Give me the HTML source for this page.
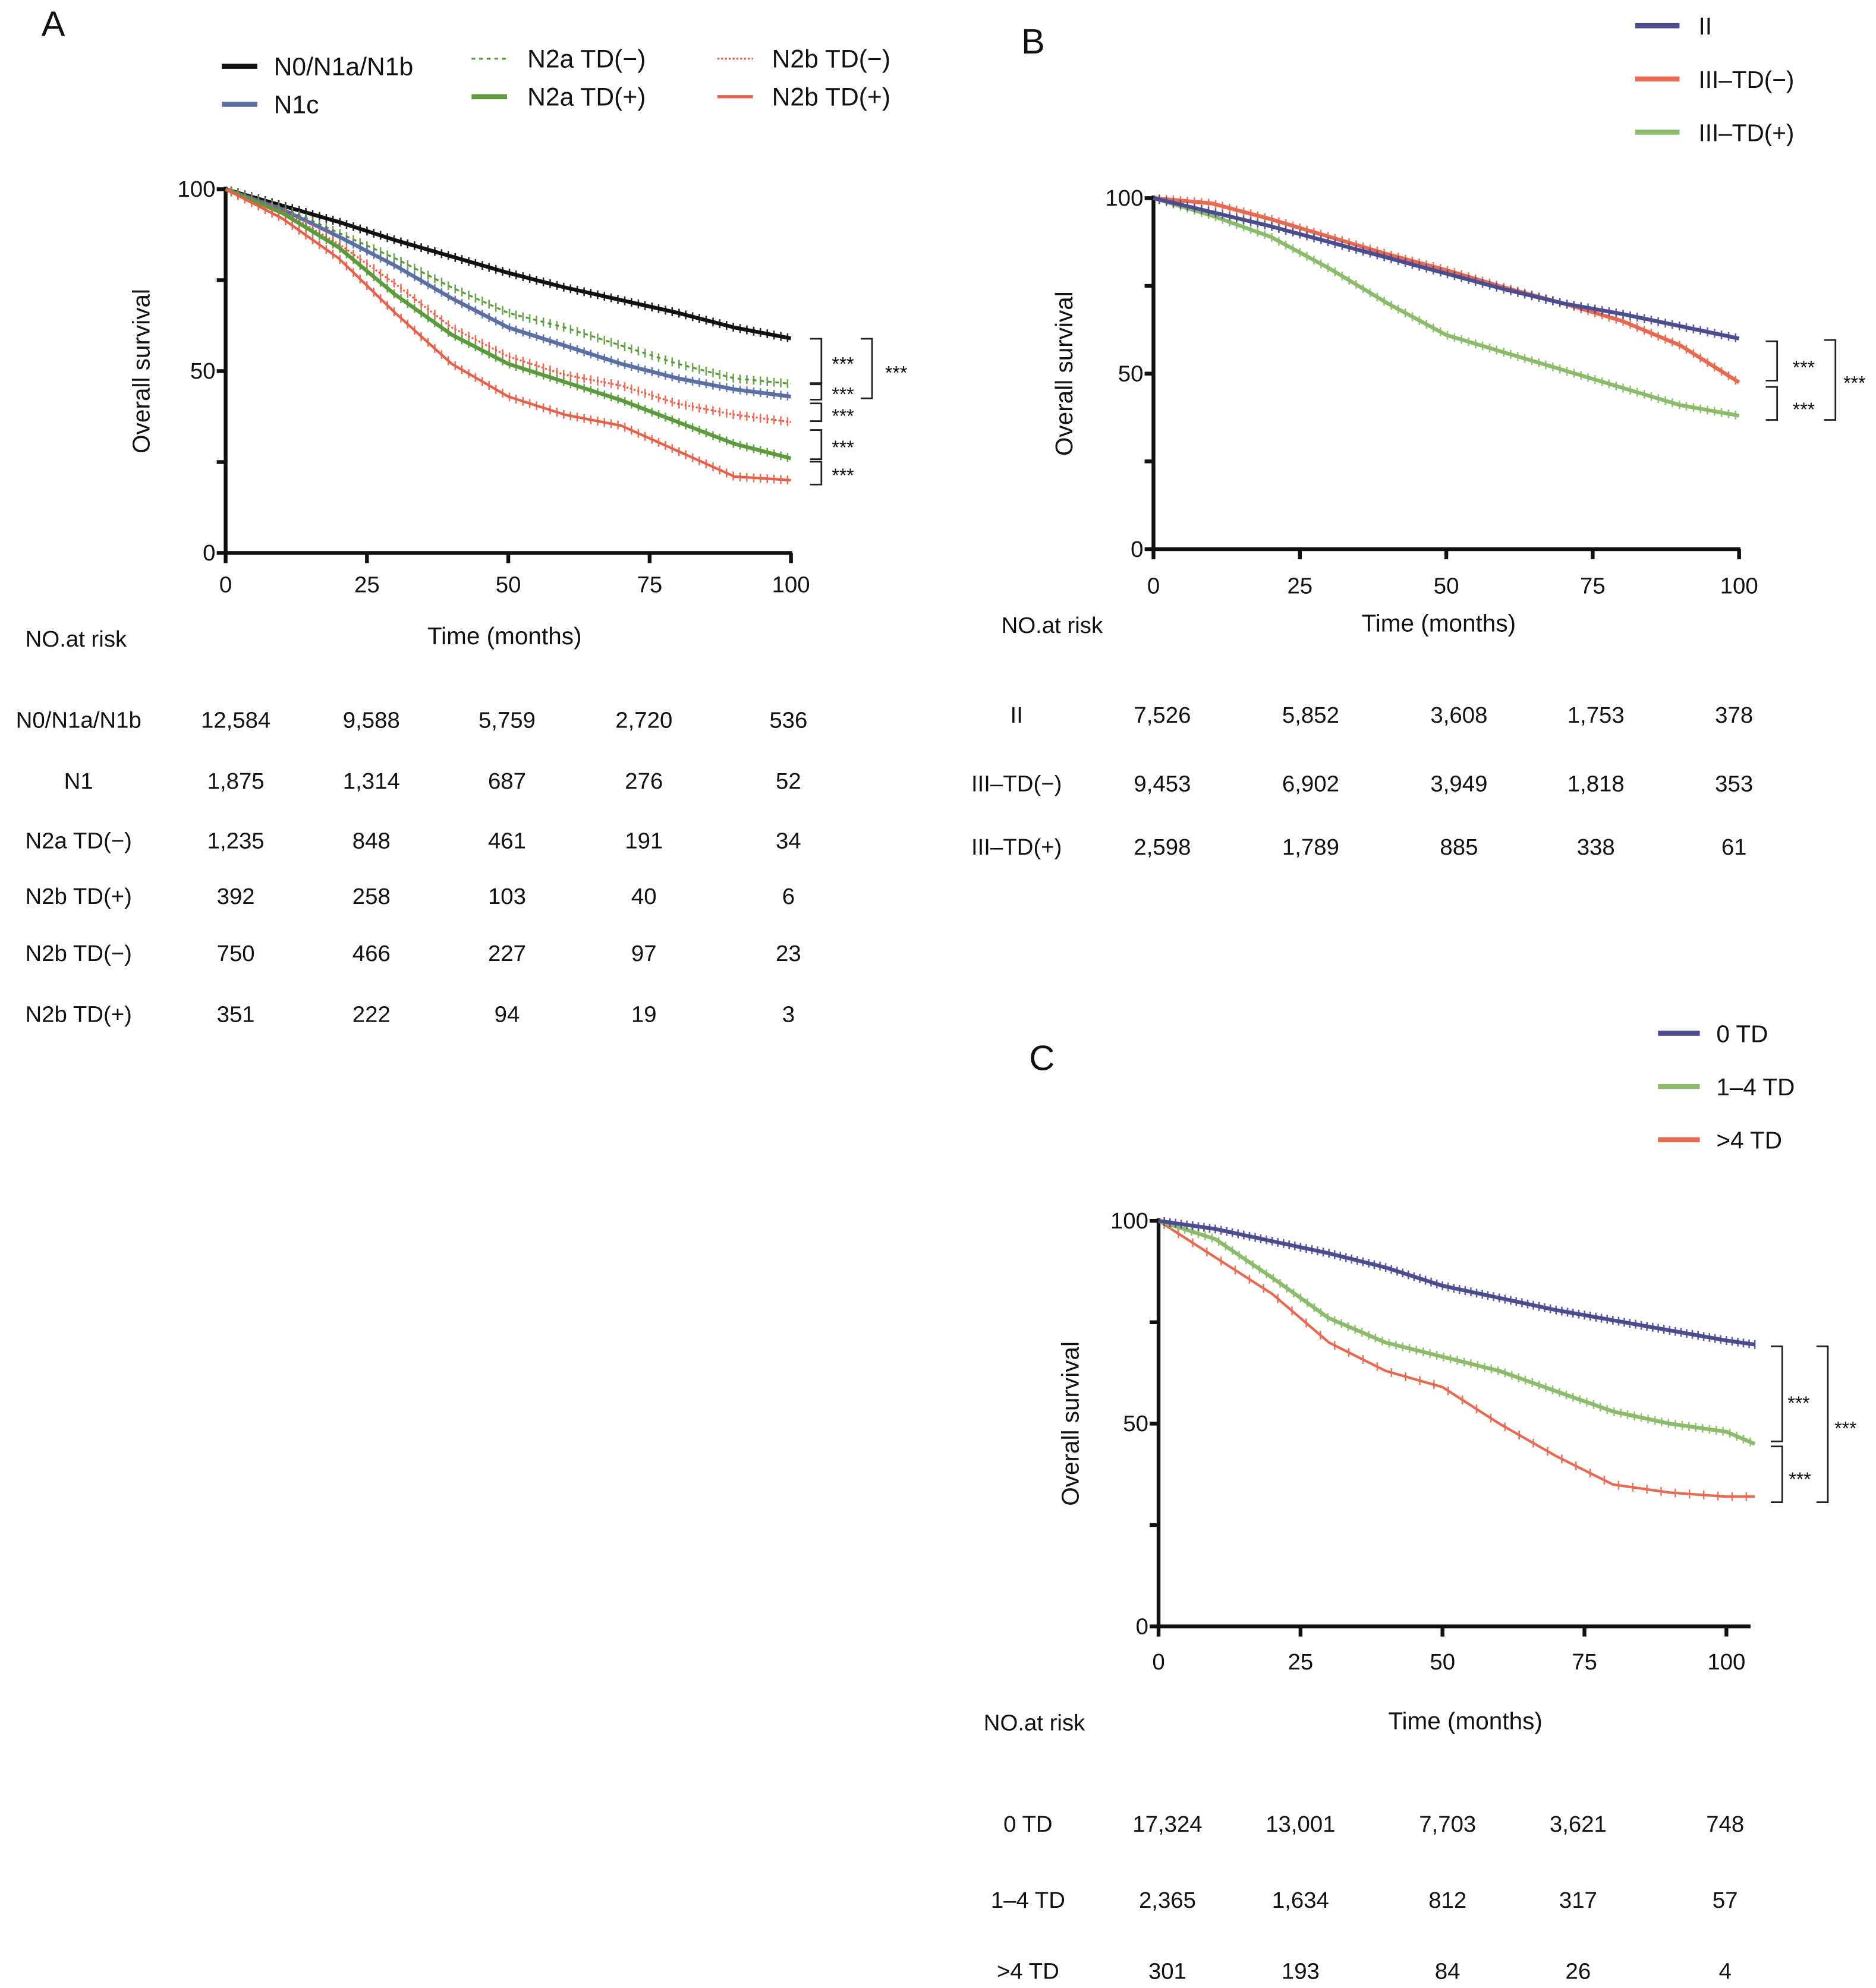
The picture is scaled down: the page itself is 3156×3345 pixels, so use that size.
<!DOCTYPE html>
<html><head><meta charset="utf-8"><style>
html,body{margin:0;padding:0;background:#fff;}
svg{display:block;}
text{font-family:"Liberation Sans",Arial,sans-serif;fill:#111;}
</style></head><body>
<svg id="fig" width="3156" height="3345" viewBox="0 0 1480 1568" xmlns="http://www.w3.org/2000/svg">
</svg>
<script>
// ---- data ----
const timesA = [0,10,20,30,40,50,60,70,80,90,100];
const survA_N0 = [100,95.5,91,86,81.5,77,73,69.5,66,62,59];
const survA_N1c = [100,94.5,87,79,70,62,57,52,48,45,43];
const survA_N2aNeg = [100,95,88,81,73,66,62,57,52,48,46.5];
const survA_N2bNeg = [100,94,85,74,62,54,49,46,41,38,36];
const survA_N2aPos = [100,93.5,84,71,60,52,47,42,36,30,26];
const survA_N2bPos = [100,92,81,66,52,43,38,35,28,21,20];
const timesB = [0,10,20,30,40,50,60,70,80,90,100];
const survB_II = [100,96,92,87.5,83,78.5,74,70,67,63.5,60];
const survB_IIINeg = [100,98.5,94,89,84,79.5,74.5,70,65,58,47.5];
const survB_IIIPos = [100,95,89,80,70,61,56,51,46,41,38];
const timesC = [0,10,20,30,40,50,60,70,80,90,100,105];
const survC_0 = [100,98,95,92,88.5,84,81,78,75.5,73,70.5,69.5];
const survC_14 = [100,95.5,86,76,70,66.5,63,58,53,50,48,45];
const survC_4 = [100,91,82,70,63,59,50,42,35,33,32,32];
const xTicks = [0,25,50,75,100];
const yTicks = [0,25,50,75,100];
const yLabels = ["0","","50","","100"];

const svg = document.getElementById('fig');
const NS = 'http://www.w3.org/2000/svg';
function mk(tag, attrs, parent){const e=document.createElementNS(NS,tag);for(const k in attrs)e.setAttribute(k,attrs[k]);(parent||svg).appendChild(e);return e;}
function txt(x,y,s,size,anchor,name,extra){const t=mk('text',Object.assign({x:x,y:y,'font-size':size,'text-anchor':anchor||'start'},extra||{}));t.textContent=s;return t;}

function axes(p){
  const g=mk('g',{});
  
  
  const X=t=>p.x0+(p.x1-p.x0)*t/100, Y=v=>p.y0-(p.y0-p.y1)*v/100;
  const yl=mk('line',{x1:p.x0,y1:Y(100)-2,x2:p.x0,y2:p.y0,stroke:'#111','stroke-width':3},g);
  
  const xl=mk('line',{x1:p.x0-1.5,y1:p.y0,x2:p.xEnd,y2:p.y0,stroke:'#111','stroke-width':3},g);
  
  yTicks.forEach((v,i)=>{const l=mk('line',{x1:p.x0-7,y1:Y(v),x2:p.x0,y2:Y(v),stroke:'#111','stroke-width':3},g);
    
    if(yLabels[i])txt(p.x0-8,Y(v)+6,yLabels[i],18,'end','y-tick-label');});
  xTicks.forEach(t=>{const l=mk('line',{x1:X(t),y1:p.y0,x2:X(t),y2:p.y0+8,stroke:'#111','stroke-width':3},g);
    
    txt(X(t),p.y0+(p.xlOff||31),String(t),18,'middle','x-tick-label');});
  txt(0,0,'Overall survival',19,'middle','y-axis-title',{transform:`translate(${p.ytx},${(p.y0+p.y1)/2}) rotate(-90)`});
  txt(p.xtx,p.xty,'Time (months)',19,'middle','x-axis-title');
  return {X,Y};
}
function series(ax,times,vals,color,name,opts){
  opts=opts||{};
  let d='';
  for(let i=0;i<times.length;i++){
    const x=ax.X(times[i]),y=ax.Y(vals[i]);
    d+=(i?'L':'M')+x.toFixed(1)+' '+y.toFixed(1);
  }
  const p=mk('path',{d:d,fill:'none',stroke:color,'stroke-width':opts.w||3,'stroke-dasharray':opts.dash||'none','stroke-linejoin':'round'});
  
  
  let td='';const last=times[times.length-1];
  for(let t=1;t<=last;t+=opts.step||1.2){
    let i=0;while(i<times.length-2&&times[i+1]<t)i++;
    const f=(t-times[i])/(times[i+1]-times[i]);const v=vals[i]+(vals[i+1]-vals[i])*Math.min(1,f);
    const x=ax.X(t),y=ax.Y(v);td+=`M${x.toFixed(1)} ${(y-3.5).toFixed(1)}V${(y+3.5).toFixed(1)}`;
  }
  const c=mk('path',{d:td,stroke:color,'stroke-width':1.2,fill:'none',opacity:0.9});
  
  
}
function legendLine(x1,x2,y,color,label,tx,name,dash,w,fs){
  const l=mk('line',{x1:x1,y1:y,x2:x2,y2:y,stroke:color,'stroke-width':w||4,'stroke-dasharray':dash||'none'});
  
  txt(tx,y+7,label,fs||19,'start',name+'-label');
}
function bracket(x,y1,y2,name){
  const p=mk('path',{d:`M${x-9} ${y1}H${x}V${y2}H${x-9}`,fill:'none',stroke:'#222','stroke-width':1.3});
  
}
function stars(x,y){txt(x,y,'***',15,'middle','significance-stars');}
function table(labels,labelX,rows,cols,vals,prefix){
  labels.forEach((lb,i)=>{txt(labelX,rows[i]+7,lb,18,'middle',prefix+'-row-label');
    vals[i].forEach((v,j)=>txt(cols[j],rows[i]+7,v,18,'middle',prefix+'-at-risk-value'));});
}
const BLACK='#111',BLUE='#5b6fa3',GREEN='#5c9a3e',RED='#e5604a',NAVY='#4b4d8f',RED2='#e66a52',LGREEN='#8dbb6c';

// ---- Panel A ----
txt(42,28,'A',28,'middle','panel-a-letter');
legendLine(175,203,52,BLACK,'N0/N1a/N1b',216,'legend-n0',null,4,20);
legendLine(175,203,82,BLUE,'N1c',216,'legend-n1c',null,4,20);
legendLine(372,400,46,GREEN,'N2a TD(−)',416,'legend-n2a-neg','3 3',1.5,20);
legendLine(372,400,76,GREEN,'N2a TD(+)',416,'legend-n2a-pos',null,4,20);
legendLine(566,594,46,RED,'N2b TD(−)',609,'legend-n2b-neg','1.5 1.5',1.5,20);
legendLine(566,594,76,RED,'N2b TD(+)',609,'legend-n2b-pos',null,2.5,20);
const axA=axes({id:'panel-a',x0:178,x1:624,xEnd:625,y0:436,y1:149,ytx:118,xtx:398,xty:508,xlOff:31});
series(axA,timesA,survA_N0,BLACK,'line-n0',{w:3});
series(axA,timesA,survA_N2aNeg,GREEN,'line-n2a-neg',{w:1.5,dash:'3 3'});
series(axA,timesA,survA_N1c,BLUE,'line-n1c',{w:3});
series(axA,timesA,survA_N2bNeg,RED,'line-n2b-neg',{w:1.5,dash:'1.5 1.5'});
series(axA,timesA,survA_N2aPos,GREEN,'line-n2a-pos',{w:3});
series(axA,timesA,survA_N2bPos,RED,'line-n2b-pos',{w:2});
bracket(648,267,302,'bracket-a1');stars(665,292);
bracket(648,303,315,'bracket-a2');stars(665,316);
bracket(648,318,332,'bracket-a3');stars(665,333);
bracket(648,339,362,'bracket-a4');stars(665,358);
bracket(648,364,382,'bracket-a5');stars(665,380);
bracket(688,267,314,'bracket-a-big');stars(707,299);
txt(20,510,'NO.at risk',18,'start','panel-a-at-risk-title');
table(['N0/N1a/N1b','N1','N2a TD(−)','N2b TD(+)','N2b TD(−)','N2b TD(+)'],62,[567,615,662,706,751,799],[186,293,400,508,622],
 [['12,584','9,588','5,759','2,720','536'],['1,875','1,314','687','276','52'],['1,235','848','461','191','34'],
  ['392','258','103','40','6'],['750','466','227','97','23'],['351','222','94','19','3']],'panel-a');

// ---- Panel B ----
txt(815,42,'B',28,'middle','panel-b-letter');
legendLine(1290,1325,20,NAVY,'II',1340,'legend-ii');
legendLine(1290,1325,62,RED2,'III–TD(−)',1340,'legend-iii-neg');
legendLine(1290,1325,104,LGREEN,'III–TD(+)',1340,'legend-iii-pos');
const axB=axes({id:'panel-b',x0:910,x1:1372,xEnd:1373,y0:433,y1:156,ytx:846,xtx:1135,xty:498,xlOff:35});
series(axB,timesB,survB_IIIPos,LGREEN,'line-iii-pos',{w:3});
series(axB,timesB,survB_IIINeg,RED2,'line-iii-neg',{w:3});
series(axB,timesB,survB_II,NAVY,'line-ii',{w:3});
bracket(1402,269,300,'bracket-b1');stars(1423,295);
bracket(1402,305,331,'bracket-b2');stars(1423,328);
bracket(1448,268,331,'bracket-b-big');stars(1463,307);
txt(790,499,'NO.at risk',18,'start','panel-b-at-risk-title');
table(['II','III–TD(−)','III–TD(+)'],802,[563,617,667],[917,1034,1151,1259,1368],
 [['7,526','5,852','3,608','1,753','378'],['9,453','6,902','3,949','1,818','353'],['2,598','1,789','885','338','61']],'panel-b');

// ---- Panel C ----
txt(822,844,'C',28,'middle','panel-c-letter');
legendLine(1308,1341,815,NAVY,'0 TD',1354,'legend-0td');
legendLine(1308,1341,857,LGREEN,'1–4 TD',1354,'legend-1-4td');
legendLine(1308,1341,899,RED2,'>4 TD',1354,'legend-4td');
const axC=axes({id:'panel-c',x0:914,x1:1362,xEnd:1381,y0:1283,y1:963,ytx:851,xtx:1156,xty:1364,xlOff:34});
series(axC,timesC,survC_4,RED2,'line-gt4td',{w:2,step:2.5});
series(axC,timesC,survC_14,LGREEN,'line-1-4td',{w:3,step:1.2});
series(axC,timesC,survC_0,NAVY,'line-0td',{w:3,step:1.0});
bracket(1406,1062,1137,'bracket-c1');stars(1419,1112);
bracket(1406,1141,1185,'bracket-c2');stars(1420,1172);
bracket(1442,1062,1185,'bracket-c-big');stars(1456,1132);
txt(776,1365,'NO.at risk',18,'start','panel-c-at-risk-title');
table(['0 TD','1–4 TD','>4 TD'],811,[1438,1498,1554],[921,1026,1142,1245,1361],
 [['17,324','13,001','7,703','3,621','748'],['2,365','1,634','812','317','57'],['301','193','84','26','4']],'panel-c');
</script>
</body></html>
